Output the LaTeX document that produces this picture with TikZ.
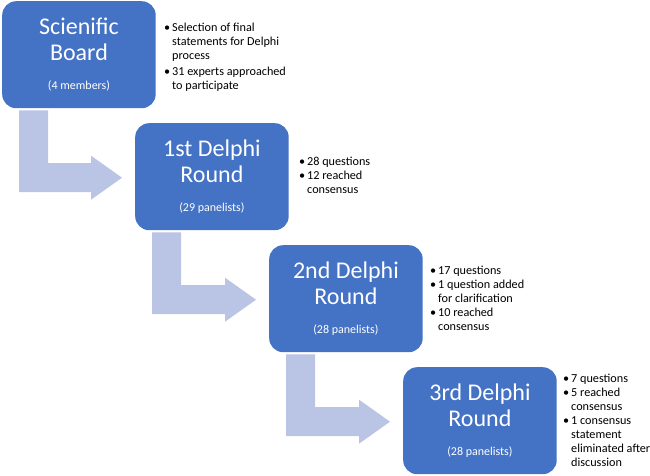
\documentclass[tikz,border=0pt]{standalone}
\usepackage{fontspec}
\setmainfont{Carlito}
\usetikzlibrary{calc}
\definecolor{boxblue}{RGB}{68,114,196}
\definecolor{arrowlilac}{RGB}{186,196,229}
\newcommand{\itm}{\makebox[8pt][l]{\textbullet}}
\newcommand{\cnt}{\hspace*{8pt}}

\begin{document}
\begin{tikzpicture}[
    x=1pt,
    y=-1pt,
    roundbox/.style={fill=boxblue, text=white, rounded corners=14pt,
      anchor=north west, minimum width=153.5pt, minimum height=107pt,
      align=center, inner sep=0pt, font=\fontsize{24}{26}\selectfont},
    notes/.style={anchor=north west, align=left, inner sep=0pt,
      font=\fontsize{12.2}{14}\selectfont},
    bentarrow/.style={fill=arrowlilac}
  ]
    \useasboundingbox (0,0) rectangle (650,476);

    % Bloques (una ronda por escalon)
    \node[roundbox] (board) at (2,1)
      {Scienific\\Board\\[3pt]{\fontsize{12}{14}\selectfont (4 members)}};
    \node[roundbox] (round1) at (135,123)
      {1st Delphi\\Round\\[3pt]{\fontsize{12}{14}\selectfont (29 panelists)}};
    \node[roundbox] (round2) at (269,245)
      {2nd Delphi\\Round\\[3pt]{\fontsize{12}{14}\selectfont (28 panelists)}};
    \node[roundbox] (round3) at (403,367)
      {3rd Delphi\\Round\\[3pt]{\fontsize{12}{14}\selectfont (28 panelists)}};

    % Notas a la derecha de cada bloque
    \node[notes] (boardnotes) at (164,23)
      {\itm Selection of final\\ \cnt statements for Delphi\\ \cnt process\\[2pt]
       \itm 31 experts approached\\ \cnt to participate};
    \node[notes] (round1notes) at (299,157)
      {\itm 28 questions\\ \itm 12 reached\\ \cnt consensus};
    \node[notes] (round2notes) at (430,266)
      {\itm 17 questions\\ \itm 1 question added\\ \cnt for clarification\\
       \itm 10 reached\\ \cnt consensus};
    \node[notes] (round3notes) at (563,374)
      {\itm 7 questions\\ \itm 5 reached\\ \cnt consensus\\
       \itm 1 consensus\\ \cnt statement\\ \cnt eliminated after\\ \cnt discussion};

    % Flechas acodadas entre bloques
    \coordinate (s1) at ($(board.south west)+(17,2)$);
    \coordinate (t1) at ($(round1.west)+(-13,1)$);
    \fill[bentarrow] (s1) -- ++(29,0) |- ($(t1)+(-31,-14.5)$) -- ++(0,-7.5)
      -- (t1) -- ++(-31,22) -- ++(0,-7.5) -| (s1) -- cycle;

    \coordinate (s2) at ($(round1.south west)+(17,2)$);
    \coordinate (t2) at ($(round2.west)+(-13,1)$);
    \fill[bentarrow] (s2) -- ++(29,0) |- ($(t2)+(-31,-14.5)$) -- ++(0,-7.5)
      -- (t2) -- ++(-31,22) -- ++(0,-7.5) -| (s2) -- cycle;

    \coordinate (s3) at ($(round2.south west)+(17,2)$);
    \coordinate (t3) at ($(round3.west)+(-13,1)$);
    \fill[bentarrow] (s3) -- ++(29,0) |- ($(t3)+(-31,-14.5)$) -- ++(0,-7.5)
      -- (t3) -- ++(-31,22) -- ++(0,-7.5) -| (s3) -- cycle;
  \end{tikzpicture}
\end{document}
